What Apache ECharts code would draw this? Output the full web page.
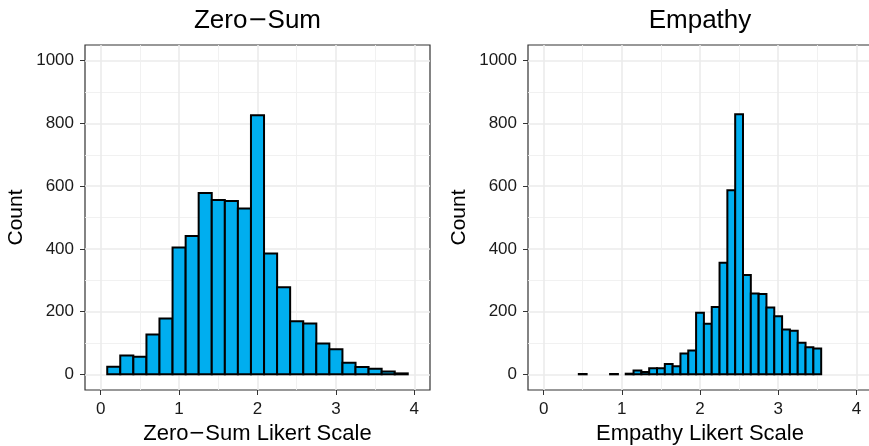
<!DOCTYPE html>
<html><head><meta charset="utf-8">
<script src="https://cdn.jsdelivr.net/npm/echarts@6/dist/echarts.min.js"></script>
<style>html,body{margin:0;padding:0;background:#fff}#c{width:869px;height:446px}</style>
</head><body><div id="c"></div>
<script>
// ---- data ----
const zeroSumBins = [0.167,0.333,0.5,0.667,0.833,1,1.167,1.333,1.5,1.667,1.833,2,2.167,2.333,2.5,2.667,2.833,3,3.167,3.333,3.5,3.667,3.833];
const zeroSumCounts = [24,60,56,127,178,404,441,578,556,553,529,826,385,278,169,162,98,80,37,23,18,9,3];
const empathyBins = [0.5,0.9,1.1,1.2,1.3,1.4,1.5,1.6,1.7,1.8,1.9,2.0,2.1,2.2,2.3,2.4,2.5,2.6,2.7,2.8,2.9,3.0,3.1,3.2,3.3,3.4,3.5];
const empathyCounts = [1,1,2,12,7,19,19,33,26,66,76,196,161,215,356,587,829,317,258,256,213,185,143,139,101,86,82];
const xTicks = [0,1,2,3,4];
const xMinorTicks = [0.5,1.5,2.5,3.5];
const yTicks = [0,200,400,600,800,1000];
const yMinorTicks = [100,300,500,700,900];
const panelTitles = ['Zero{m|\u2212}Sum','Empathy'];
const xTitles = ['Zero{m|\u2212}Sum Likert Scale','Empathy Likert Scale'];
const yTitle = 'Count';

// ---- style / layout ----
const FONT = 'Liberation Sans, Arial, Helvetica, sans-serif';
const MINUS_FONT = 'DejaVu Sans, sans-serif';
const binWidths = [1/6, 0.1];
const X_MIN = -0.2, X_MAX = 4.2, Y_MIN = -50, Y_MAX = 1050;
const grids = [
  {left: 85, right: 439, top: 45, bottom: 56},
  {left: 528, right: -3, top: 45, bottom: 56}
];
const panelCenters = [257.5, 700];

const chart = echarts.init(document.getElementById('c'), null, {renderer: 'canvas'});

const xAxes = [], yAxes = [], series = [], titles = [];
[0,1].forEach(g => {
  xAxes.push({
    type: 'value', gridIndex: g, min: X_MIN, max: X_MAX,
    name: xTitles[g], nameLocation: 'middle', nameGap: 32,
    nameTextStyle: {fontFamily: FONT, fontSize: 22, color: '#000',
      rich: {m: {fontFamily: MINUS_FONT, fontSize: 20, color: '#000'}}},
    axisLine: {show: false, onZero: false},
    axisTick: {show: true, customValues: xTicks, length: 5, lineStyle: {color: '#333', width: 1}},
    axisLabel: {show: true, customValues: xTicks, margin: 11, fontFamily: FONT, fontSize: 17, color: '#1a1a1a',
      formatter: v => String(v)},
    splitLine: {show: true, lineStyle: {color: '#EBEBEB', width: 1.6}}
  });
  xAxes.push({
    type: 'value', gridIndex: g, min: X_MIN, max: X_MAX,
    axisLine: {show: false, onZero: false}, axisLabel: {show: false},
    axisTick: {show: false, customValues: xMinorTicks},
    splitLine: {show: true, lineStyle: {color: '#EFEFEF', width: 0.9}}
  });
  yAxes.push({
    type: 'value', gridIndex: g, min: Y_MIN, max: Y_MAX,
    name: yTitle, nameLocation: 'middle', nameGap: 58, nameRotate: 90,
    nameTextStyle: {fontFamily: FONT, fontSize: 21, color: '#000'},
    axisLine: {show: false, onZero: false},
    axisTick: {show: true, customValues: yTicks, length: 5, lineStyle: {color: '#333', width: 1}},
    axisLabel: {show: true, customValues: yTicks, margin: 11, fontFamily: FONT, fontSize: 17, color: '#1a1a1a',
      formatter: v => String(v)},
    splitLine: {show: true, lineStyle: {color: '#EBEBEB', width: 1.6}}
  });
  yAxes.push({
    type: 'value', gridIndex: g, min: Y_MIN, max: Y_MAX,
    axisLine: {show: false, onZero: false}, axisLabel: {show: false},
    axisTick: {show: false, customValues: yMinorTicks},
    splitLine: {show: true, lineStyle: {color: '#EFEFEF', width: 0.9}}
  });
  titles.push({
    text: panelTitles[g], left: panelCenters[g], top: 8, textAlign: 'center', padding: 0,
    textStyle: {fontFamily: FONT, fontSize: 26, fontWeight: 'normal', color: '#000',
      rich: {m: {fontFamily: MINUS_FONT, fontSize: 24, color: '#000'}}}
  });
});

function histSeries(bins, counts, g) {
  const w = binWidths[g];
  return {
    type: 'custom', xAxisIndex: g * 2, yAxisIndex: g * 2, clip: false, z: 5,
    data: bins.map((b, i) => [b, counts[i]]),
    renderItem: function (params, api) {
      const x = api.value(0), y = api.value(1);
      const p1 = api.coord([x - w / 2, y]);
      const p2 = api.coord([x + w / 2, 0]);
      return {
        type: 'rect',
        shape: {x: p1[0], y: p1[1], width: p2[0] - p1[0], height: Math.max(p2[1] - p1[1], 0.3)},
        style: {fill: '#00AEEF', stroke: '#000', lineWidth: 2}
      };
    }
  };
}
series.push(histSeries(zeroSumBins, zeroSumCounts, 0));
series.push(histSeries(empathyBins, empathyCounts, 1));

chart.setOption({
  animation: false,
  backgroundColor: '#fff',
  title: titles,
  grid: grids.map(g => Object.assign({show: true, borderColor: '#333', borderWidth: 1.2,
    backgroundColor: 'transparent', containLabel: false, outerBoundsMode: 'none'}, g)),
  xAxis: xAxes,
  yAxis: yAxes,
  series: series
});
</script></body></html>
